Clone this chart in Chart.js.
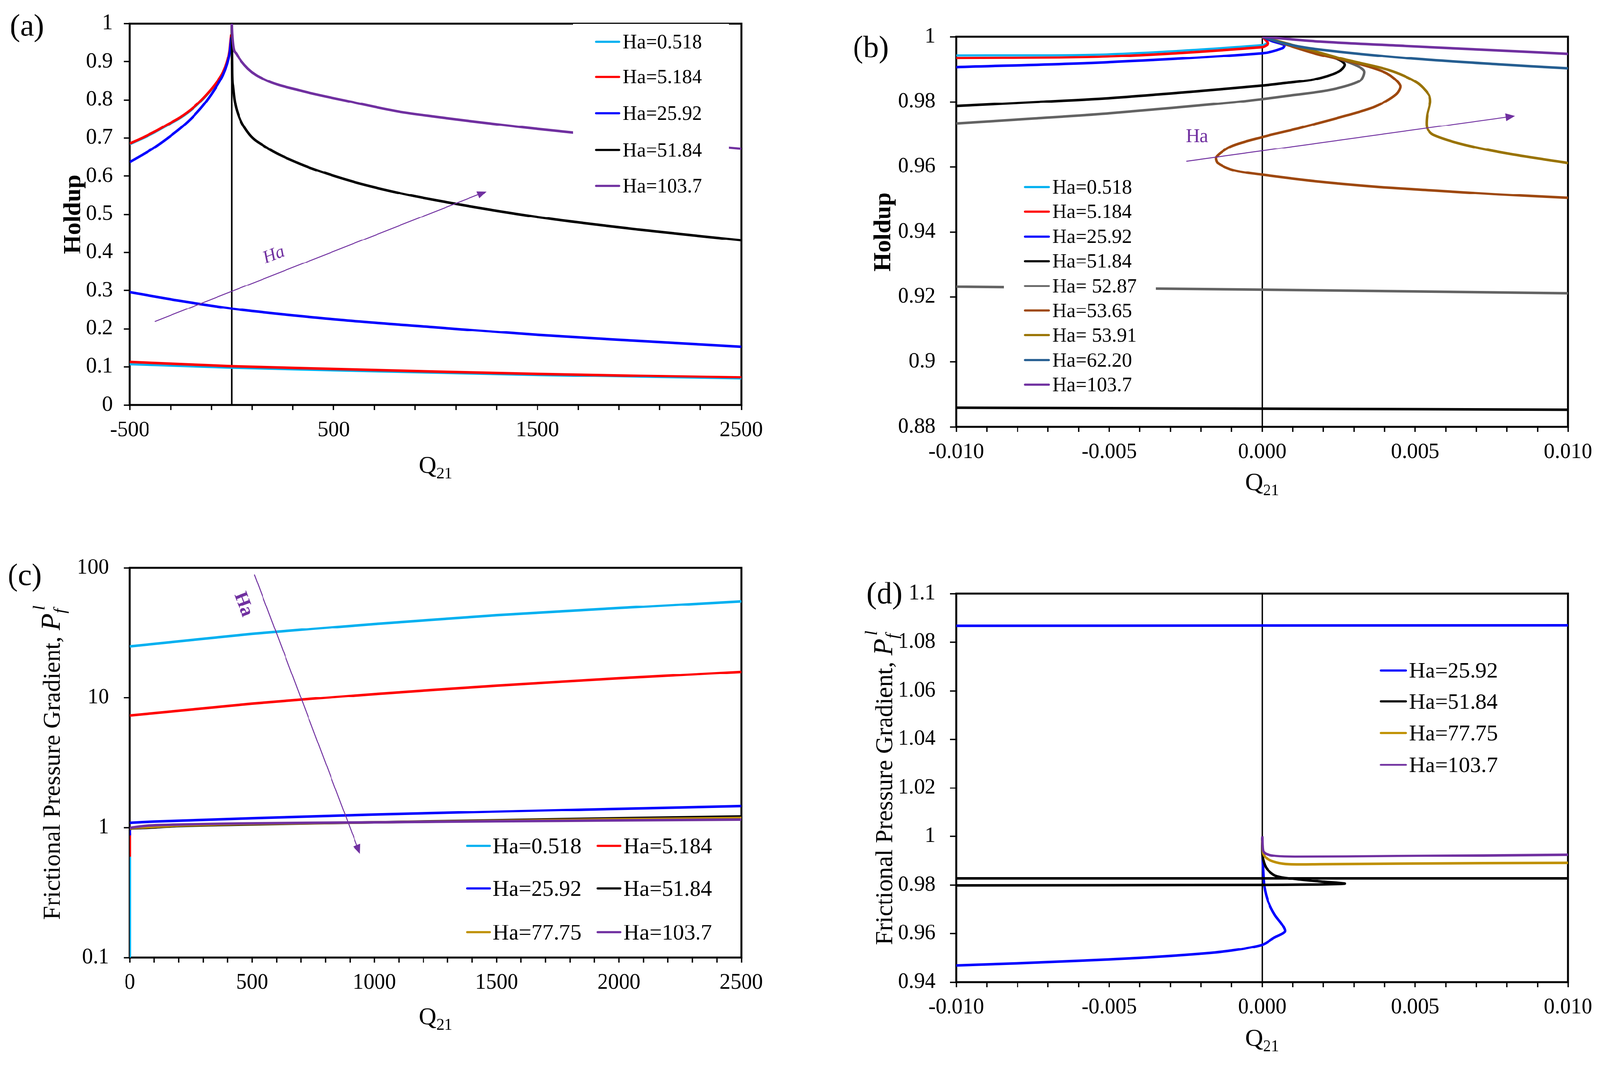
<!DOCTYPE html>
<html>
<head>
<meta charset="utf-8">
<title>Holdup et gradient de pression - Q21</title>
<script src="https://cdn.jsdelivr.net/npm/chart.js@4.4.1/dist/chart.umd.min.js"></script>
<style>
  html, body { margin: 0; padding: 0; background: #fff; overflow: hidden; }
  #page { position: absolute; left: 0; top: 0; width: 4166px; height: 2763px; transform-origin: 0 0; }
  canvas { position: absolute; display: block; }
</style>
</head>
<body>
<div id="page">
<canvas id="chartA" width="2083" height="1381" style="left:0px;top:0px;width:2083px;height:1381px"></canvas>
<canvas id="chartB" width="2083" height="1381" style="left:2083px;top:0px;width:2083px;height:1381px"></canvas>
<canvas id="chartC" width="2083" height="1382" style="left:0px;top:1381px;width:2083px;height:1382px"></canvas>
<canvas id="chartD" width="2083" height="1382" style="left:2083px;top:1381px;width:2083px;height:1382px"></canvas>
</div>
<script>
// ---- (a) holdup, Q21 de -500 a 2500 : [Q21, holdup], null = coupure entre branches
const aHa0518 = [[-500,0.684],[-441,0.698],[-377,0.715],[-314,0.734],[-251,0.753],[-188,0.778],[-125,0.811],[-74,0.844],[-43,0.870],[-24,0.896],[-11,0.926],[-5,0.958],[-2,0.970], null,
                 [-500,0.107],[0,0.098],[500,0.091],[1000,0.085],[1500,0.079],[2000,0.074],[2500,0.0695]];
const aHa5184 = [[-500,0.686],[-441,0.700],[-377,0.717],[-314,0.736],[-251,0.755],[-188,0.780],[-125,0.813],[-74,0.846],[-43,0.872],[-24,0.898],[-11,0.928],[-5,0.960],[-2,0.972], null,
                 [-500,0.113],[0,0.102],[500,0.095],[1000,0.088],[1500,0.082],[2000,0.077],[2500,0.073]];
const aHa2592 = [[-500,0.637],[-441,0.655],[-377,0.676],[-314,0.700],[-251,0.726],[-188,0.757],[-125,0.796],[-74,0.836],[-43,0.865],[-24,0.892],[-11,0.921],[-5,0.950],[-2,0.964], null,
                 [-500,0.296],[-250,0.273],[0,0.253],[500,0.225],[1000,0.204],[1500,0.184],[2000,0.168],[2500,0.153]];
const aHa5184b = [[0,1.0],[1,0.93],[2,0.87],[6,0.836],[13,0.803],[25,0.773],[79,0.715],[163,0.678],[333,0.633],[587,0.587],[813,0.557],[1000,0.537],[1500,0.493],[2000,0.460],[2500,0.432]];
const aHa1037 = [[0,1.0],[2,0.975],[7.6,0.941],[23,0.921],[79,0.882],[163,0.853],[333,0.825],[587,0.795],[813,0.770],[1000,0.756],[1500,0.724],[2000,0.696],[2500,0.672]];
const aZero = [[0,0],[0,1]];
const aArrow = [[-377,0.219],[1250,0.56]];
const aArrowText = [207,0.393];

// ---- (b) holdup, zoom autour de Q21 = 0
const bHa0518 = [[-0.01,0.99433],[-0.0051,0.99464],[0,0.99745],[0.00017,0.99838],[0,0.9998]];
const bHa5184 = [[-0.01,0.9935],[-0.0051,0.99394],[0,0.99684],[0.00019,0.99791],[0.0001,0.99908],[0,1.0]];
const bHa2592 = [[-0.01,0.99067],[-0.0051,0.99216],[0,0.99497],[0.00066,0.99652],[0.00072,0.99745],[0.00034,0.99862],[0,1.0]];
const bHa5184b = [[-0.01,0.9787],[-0.0075,0.9799],[-0.0051,0.9811],[-0.0022,0.9832],[0,0.9850],[0.00075,0.9858],[0.0017,0.9869],[0.0025,0.9893],[0.0027,0.9914],[0.0025,0.9930],[0.0017,0.9953],[0.0009,0.9975],[0,1.0], null,
                  [-0.01,0.8859],[0,0.8856],[0.01,0.8853]];
const bHa5287 = [[-0.01,0.9734],[-0.0075,0.9749],[-0.0051,0.9764],[-0.0009,0.9799],[0,0.98086],[0.00075,0.98178],[0.0022,0.98365],[0.0032,0.9865],[0.00334,0.98925],[0.0032,0.9906],[0.0027,0.9926],[0.002,0.9947],[0.001,0.9972],[0,1.0], null,
                 [-0.01,0.9231],[0,0.9222],[0.01,0.9211]];
const bHa5365 = [[0,1.0],[0.00173,0.99487],[0.00319,0.99161],[0.00407,0.98878],[0.00451,0.98505],[0.00437,0.98228],[0.00368,0.9785],[0.0027,0.97567],[0.00124,0.972],[0,0.96917],[-0.00101,0.96634],[-0.0015,0.96307],[-0.00145,0.9612],[-0.00091,0.9589],[0,0.9576],[0.00173,0.95559],[0.00368,0.95394],[0.00564,0.95276],[0.00759,0.95161],[0.01,0.95044]];
const bHa5391 = [[0,1.0],[0.0015,0.9962],[0.0027,0.99303],[0.00417,0.98972],[0.00505,0.98599],[0.00544,0.98228],[0.00549,0.97992],[0.00539,0.97567],[0.00539,0.972],[0.00559,0.96988],[0.00661,0.96681],[0.00808,0.964],[0.01,0.9612]];
const bHa6220 = [[0,1.0],[0.00075,0.9979],[0.00173,0.99628],[0.00466,0.9935],[0.00759,0.99161],[0.01,0.99032]];
const bHa1037 = [[0,1.0],[0.00173,0.99862],[0.00466,0.99721],[0.00759,0.9959],[0.01,0.9948]];
const bZero = [[0,0.88],[0,1]];
const bArrow = [[-0.00248,0.96173],[0.00826,0.97567]];
const bArrowText = [-0.00213,0.9692];

// ---- (c) gradient de pression (log), Q21 de 0 a 2500
const cHa0518 = [[0.5,0.1],[0.5,0.6], null, [0,24.9],[500,31],[1000,37],[1500,43.2],[2000,49],[2500,55.3]];
const cHa5184 = [[0.5,0.6],[0.5,0.91], null, [0,7.31],[500,9.0],[1000,10.7],[1500,12.4],[2000,14.1],[2500,15.85]];
const cHa2592 = [[0.5,0.87],[0.5,0.97], null, [0,1.09],[100,1.115],[500,1.18],[1000,1.26],[1500,1.33],[2000,1.40],[2500,1.47]];
const cHa5184b = [[0,0.975],[10,0.99],[76,1.0],[200,1.03],[443,1.056],[1000,1.10],[1500,1.14],[2000,1.18],[2500,1.218]];
const cHa7775 = [[0,0.98],[10,0.995],[76,1.01],[200,1.04],[443,1.066],[1000,1.10],[1500,1.13],[2000,1.16],[2500,1.186]];
const cHa1037 = [[0,0.99],[10,1.005],[76,1.04],[200,1.058],[443,1.078],[1000,1.10],[1500,1.12],[2000,1.137],[2500,1.153]];
const cTicksY = [0.1, 1, 10, 100];
const cArrow = [[509,88.9],[941,0.63]];
const cArrowText = [464,52.3];

// ---- (d) gradient de pression, zoom autour de Q21 = 0
const dHa2592 = [[-0.01,1.0868],[0,1.0869],[0.01,1.0870], null,
                 [-0.01,0.9469],[-0.008,0.9478],[-0.006,0.9488],[-0.004,0.9500],[-0.002,0.9517],[-0.001,0.9530],[0,0.9554],[0.0004,0.9584],[0.00074,0.9608],[0.00066,0.9635],[0.00041,0.9677],[0.0002,0.9730],[0.00007,0.9793],[0.00003,0.9861],[0.00001,0.9915],[0,0.9975]];
const dHa5184 = [[-0.01,0.9828],[0.01,0.9828], null,
                 [-0.01,0.9798],[-0.005,0.9799],[0,0.9800],[0.0013,0.9801],[0.00233,0.9803],[0.0027,0.98055],[0.00191,0.9814],[0.00107,0.98246],[0.00045,0.98377],[0.00015,0.98673],[0.00003,0.99037],[0,0.99407],[0,0.9995]];
const dHa7775 = [[0,0.9983],[0.00003,0.99306],[0.00015,0.9909],[0.00045,0.98932],[0.00087,0.98852],[0.0019,0.98852],[0.00442,0.98879],[0.01,0.98911]];
const dHa1037 = [[0,1.0],[0.00003,0.99407],[0.00015,0.99275],[0.00045,0.99196],[0.00107,0.9917],[0.00442,0.99196],[0.01,0.99251]];
const dZero = [[0,0.94],[0,1.1]];

// la page est dessinee en pixels de la figure (4166 x 2763), puis ramenee a la fenetre
const page = document.getElementById('page');
const k = Math.min(window.innerWidth / 4166, window.innerHeight / 2763);
page.style.transform = 'scale(' + k + ')';

const SERIF = '"Liberation Serif", "Times New Roman", serif';
const PURPLE = '#7030A0';
Chart.defaults.font.family = SERIF;
Chart.defaults.color = '#000';

function pts(arr) {
  // null => point sans valeur, la courbe est coupee
  return arr.map(p => p ? { x: p[0], y: p[1] } : { x: 0, y: null });
}

function serie(label, color, data, order, width) {
  return {
    label: label, data: pts(data), borderColor: color, backgroundColor: color,
    borderWidth: width || 6.5, order: order, showLine: true, pointRadius: 0,
    fill: false, borderJoinStyle: 'round'
  };
}

function axisX(min, max, step, cb, height) {
  return {
    type: 'linear', position: 'bottom', min: min, max: max,
    ticks: { stepSize: step, autoSkip: false, maxRotation: 0, minRotation: 0, padding: 20,
             font: { size: 56 }, color: '#000', callback: cb },
    grid: { drawOnChartArea: false, drawTicks: true, tickLength: 13, tickWidth: 3.5, tickColor: '#000' },
    border: { display: false },
    afterFit: s => { s.height = height; }
  };
}

function axisY(type, min, max, step, cb, width, pad) {
  return {
    type: type, position: 'left', min: min, max: max,
    ticks: { stepSize: step, autoSkip: false, padding: pad, font: { size: 56 }, color: '#000', callback: cb },
    grid: { drawOnChartArea: false, drawTicks: true, tickLength: 16, tickWidth: 3.5, tickColor: '#000' },
    border: { display: false },
    afterFit: s => { s.width = width; }
  };
}

function drawArrow(ctx, x1, y1, x2, y2) {
  const ang = Math.atan2(y2 - y1, x2 - x1);
  const head = 24, half = 10;
  ctx.strokeStyle = PURPLE; ctx.fillStyle = PURPLE; ctx.lineWidth = 2.5;
  ctx.beginPath();
  ctx.moveTo(x1, y1);
  ctx.lineTo(x2 - head * 0.8 * Math.cos(ang), y2 - head * 0.8 * Math.sin(ang));
  ctx.stroke();
  ctx.beginPath();
  ctx.moveTo(x2, y2);
  ctx.lineTo(x2 - head * Math.cos(ang) + half * Math.sin(ang), y2 - head * Math.sin(ang) - half * Math.cos(ang));
  ctx.lineTo(x2 - head * Math.cos(ang) - half * Math.sin(ang), y2 - head * Math.sin(ang) + half * Math.cos(ang));
  ctx.closePath();
  ctx.fill();
}

function drawQ21(ctx, cx, by) {
  ctx.fillStyle = '#000'; ctx.textBaseline = 'alphabetic'; ctx.textAlign = 'left';
  ctx.font = '64px ' + SERIF;
  const w1 = ctx.measureText('Q').width;
  ctx.font = '42px ' + SERIF;
  const w2 = ctx.measureText('21').width;
  const x = cx - (w1 + w2) / 2;
  ctx.font = '64px ' + SERIF;
  ctx.fillText('Q', x, by);
  ctx.font = '42px ' + SERIF;
  ctx.fillText('21', x + w1, by + 14);
}

function drawHoldup(ctx, bx, cy) {
  ctx.save();
  ctx.translate(bx, cy);
  ctx.rotate(-Math.PI / 2);
  ctx.fillStyle = '#000'; ctx.textBaseline = 'alphabetic'; ctx.textAlign = 'center';
  ctx.font = 'bold 64px ' + SERIF;
  ctx.fillText('Holdup', 0, 0);
  ctx.restore();
}

function drawPf(ctx, bx, cy) {
  const main = 'Frictional Pressure Gradient, ';
  ctx.save();
  ctx.translate(bx, cy);
  ctx.rotate(-Math.PI / 2);
  ctx.fillStyle = '#000'; ctx.textBaseline = 'alphabetic'; ctx.textAlign = 'left';
  ctx.font = '64px ' + SERIF;
  const w1 = ctx.measureText(main).width;
  ctx.font = 'italic 72px ' + SERIF;
  const w2 = ctx.measureText('P').width;
  ctx.font = 'italic 44px ' + SERIF;
  const w3 = ctx.measureText('f').width + 8;
  let x = -(w1 + w2 + w3) / 2;
  ctx.font = '64px ' + SERIF;
  ctx.fillText(main, x, 0);
  x += w1;
  ctx.font = 'italic 72px ' + SERIF;
  ctx.fillText('P', x, 0);
  x += w2;
  ctx.font = 'italic 44px ' + SERIF;
  ctx.fillText('f', x, 14);
  ctx.fillText('l', x + 8, -40);
  ctx.restore();
}

// decor d'un panneau : cadre, fleche Ha, legende, titres
function deco(p) {
  return {
    id: 'deco',
    beforeDatasetsDraw(chart) {
      const ctx = chart.ctx, ca = chart.chartArea;
      ctx.save();
      ctx.strokeStyle = '#000'; ctx.lineWidth = 5;
      ctx.strokeRect(ca.left, ca.top, ca.right - ca.left, ca.bottom - ca.top);
      ctx.restore();
    },
    afterDatasetsDraw(chart) {
      const ctx = chart.ctx, sx = chart.scales.x, sy = chart.scales.y;
      if (p.arrow) {
        ctx.save();
        const x1 = sx.getPixelForValue(p.arrow[0][0]), y1 = sy.getPixelForValue(p.arrow[0][1]);
        const x2 = sx.getPixelForValue(p.arrow[1][0]), y2 = sy.getPixelForValue(p.arrow[1][1]);
        drawArrow(ctx, x1, y1, x2, y2);
        const tx = sx.getPixelForValue(p.arrowText[0]), ty = sy.getPixelForValue(p.arrowText[1]);
        ctx.translate(tx, ty);
        if (p.textRotate) ctx.rotate(Math.atan2(y2 - y1, x2 - x1));
        ctx.fillStyle = PURPLE; ctx.textAlign = 'center'; ctx.textBaseline = 'middle';
        ctx.font = p.arrowFont + ' ' + SERIF;
        ctx.fillText('Ha', 0, 0);
        ctx.restore();
      }

      // legende sur fond blanc
      const lg = p.legend;
      ctx.save();
      ctx.fillStyle = '#fff';
      ctx.fillRect(lg.box[0], lg.box[1], lg.box[2] - lg.box[0], lg.box[3] - lg.box[1]);
      const items = chart.data.datasets.filter(d => d.label);
      ctx.font = lg.font + 'px ' + SERIF;
      ctx.textAlign = 'left'; ctx.textBaseline = 'alphabetic';
      items.forEach((d, i) => {
        const col = lg.cols[i % lg.cols.length];
        const y = lg.rows[Math.floor(i / lg.cols.length)];
        ctx.strokeStyle = d.borderColor; ctx.lineWidth = 5.5; ctx.lineCap = 'round';
        ctx.beginPath(); ctx.moveTo(col[0], y); ctx.lineTo(col[1], y); ctx.stroke();
        ctx.fillStyle = '#000';
        ctx.fillText(d.label, col[2], y + lg.font * 0.33);
      });
      ctx.restore();
    },
    afterDraw(chart) {
      const ctx = chart.ctx, ca = chart.chartArea;
      ctx.save();
      ctx.fillStyle = '#000'; ctx.textAlign = 'left'; ctx.textBaseline = 'alphabetic';
      ctx.font = '80px ' + SERIF;
      ctx.fillText(p.panel, p.panelPos[0], p.panelPos[1] + 20);
      drawQ21(ctx, (ca.left + ca.right) / 2, p.qBase);
      if (p.yTitle === 'Holdup') drawHoldup(ctx, p.yTitleX, (ca.top + ca.bottom) / 2);
      else drawPf(ctx, p.yTitleX, (ca.top + ca.bottom) / 2);
      ctx.restore();
    }
  };
}

const fmtA = v => ((v + 500) % 1000 === 0 ? String(v) : '');
const fmtB = v => { const n = Math.round(v * 1000); return n % 5 === 0 ? (n / 1000).toFixed(3) : ''; };
const fmtC = v => (v % 500 === 0 ? String(v) : '');
const fmtY1 = v => String(Math.round(v * 10) / 10);
const fmtY2 = v => String(Math.round(v * 100) / 100);

function makeChart(id, datasets, scales, pad, lineOpts, p) {
  return new Chart(document.getElementById(id), {
    type: 'scatter',
    data: { datasets: datasets },
    options: {
      responsive: false, devicePixelRatio: 1, animation: false, events: [],
      layout: { padding: { left: 0, top: pad[0], right: pad[1], bottom: 0 } },
      elements: { line: lineOpts },
      plugins: { legend: { display: false }, tooltip: { enabled: false } },
      scales: scales
    },
    plugins: [deco(p)]
  });
}

// (a)
makeChart('chartA', [
  serie('Ha=0.518', '#00B0F0', aHa0518, 5, 5.5),
  serie('Ha=5.184', '#FF0000', aHa5184, 4),
  serie('Ha=25.92', '#0000FF', aHa2592, 3),
  serie('Ha=51.84', '#000000', aHa5184b, 2),
  serie('Ha=103.7', PURPLE, aHa1037, 1),
  serie(undefined, '#000000', aZero, 10, 4)
], {
  x: axisX(-500, 2500, 200, fmtA, 326),
  y: axisY('linear', 0, 1, 0.1, fmtY1, 338, 28)
}, [40, 153], { cubicInterpolationMode: 'monotone' }, {
  panel: '(a)', panelPos: [26, 73], qBase: 1232, yTitle: 'Holdup', yTitleX: 209,
  arrow: aArrow, arrowText: aArrowText, textRotate: true, arrowFont: 'italic 46px',
  legend: { box: [1492, 62, 1898, 532], font: 52, rows: [109, 200, 295, 391, 484], cols: [[1552, 1612, 1621]] }
});

// (b)
makeChart('chartB', [
  serie('Ha=0.518', '#00B0F0', bHa0518, 9, 5.5),
  serie('Ha=5.184', '#FF0000', bHa5184, 8),
  serie('Ha=25.92', '#0000FF', bHa2592, 7),
  serie('Ha=51.84', '#000000', bHa5184b, 6),
  serie('Ha= 52.87', '#636363', bHa5287, 5),
  serie('Ha=53.65', '#9E480E', bHa5365, 4),
  serie('Ha= 53.91', '#997300', bHa5391, 3),
  serie('Ha=62.20', '#255E91', bHa6220, 2),
  serie('Ha=103.7', PURPLE, bHa1037, 1),
  serie(undefined, '#000000', bZero, 10, 3.5)
], {
  x: axisX(-0.01, 0.01, 0.001, fmtB, 269),
  y: axisY('linear', 0.88, 1, 0.02, fmtY2, 407, 38)
}, [96, 81], { tension: 0.3 }, {
  panel: '(b)', panelPos: [138, 129], qBase: 1276, yTitle: 'Holdup', yTitleX: 235,
  arrow: bArrow, arrowText: bArrowText, textRotate: false, arrowFont: '50px',
  legend: { box: [531, 452, 927, 1040], font: 52, rows: [487, 551, 616, 680, 745, 809, 873, 938, 1002], cols: [[586, 648, 657]] }
});

// (c)
const yC = axisY('logarithmic', 0.1, 100, undefined, v => String(v), 338, 38);
yC.afterBuildTicks = s => { s.ticks = cTicksY.map(v => ({ value: v })); };
makeChart('chartC', [
  serie('Ha=0.518', '#00B0F0', cHa0518, 6),
  serie('Ha=5.184', '#FF0000', cHa5184, 5),
  serie('Ha=25.92', '#0000FF', cHa2592, 4),
  serie('Ha=51.84', '#000000', cHa5184b, 3),
  serie('Ha=77.75', '#BF9000', cHa7775, 2),
  serie('Ha=103.7', PURPLE, cHa1037, 1)
], {
  x: axisX(0, 2500, 100, fmtC, 269),
  y: yC
}, [98, 153], { tension: 0.2 }, {
  panel: '(c)', panelPos: [20, 123], qBase: 1287, yTitle: 'Pf', yTitleX: 156,
  arrow: cArrow, arrowText: cArrowText, textRotate: true, arrowFont: 'bold 50px',
  legend: { box: [1190, 770, 1900, 1100], font: 58, rows: [822, 933, 1047], cols: [[1216, 1275, 1283], [1556, 1615, 1623]] }
});

// (d)
makeChart('chartD', [
  serie('Ha=25.92', '#0000FF', dHa2592, 4),
  serie('Ha=51.84', '#000000', dHa5184, 3),
  serie('Ha=77.75', '#BF9000', dHa7775, 2),
  serie('Ha=103.7', PURPLE, dHa1037, 1),
  serie(undefined, '#000000', dZero, 10, 3.5)
], {
  x: axisX(-0.01, 0.01, 0.001, fmtB, 205),
  y: axisY('linear', 0.94, 1.1, 0.02, fmtY2, 407, 38)
}, [165, 81], { tension: 0.3 }, {
  panel: '(d)', panelPos: [173, 170], qBase: 1343, yTitle: 'Pf', yTitleX: 240,
  arrow: null,
  legend: { box: [1470, 320, 1900, 660], font: 58, rows: [365, 446, 528, 611], cols: [[1512, 1578, 1586]] }
});
</script>
</body>
</html>
